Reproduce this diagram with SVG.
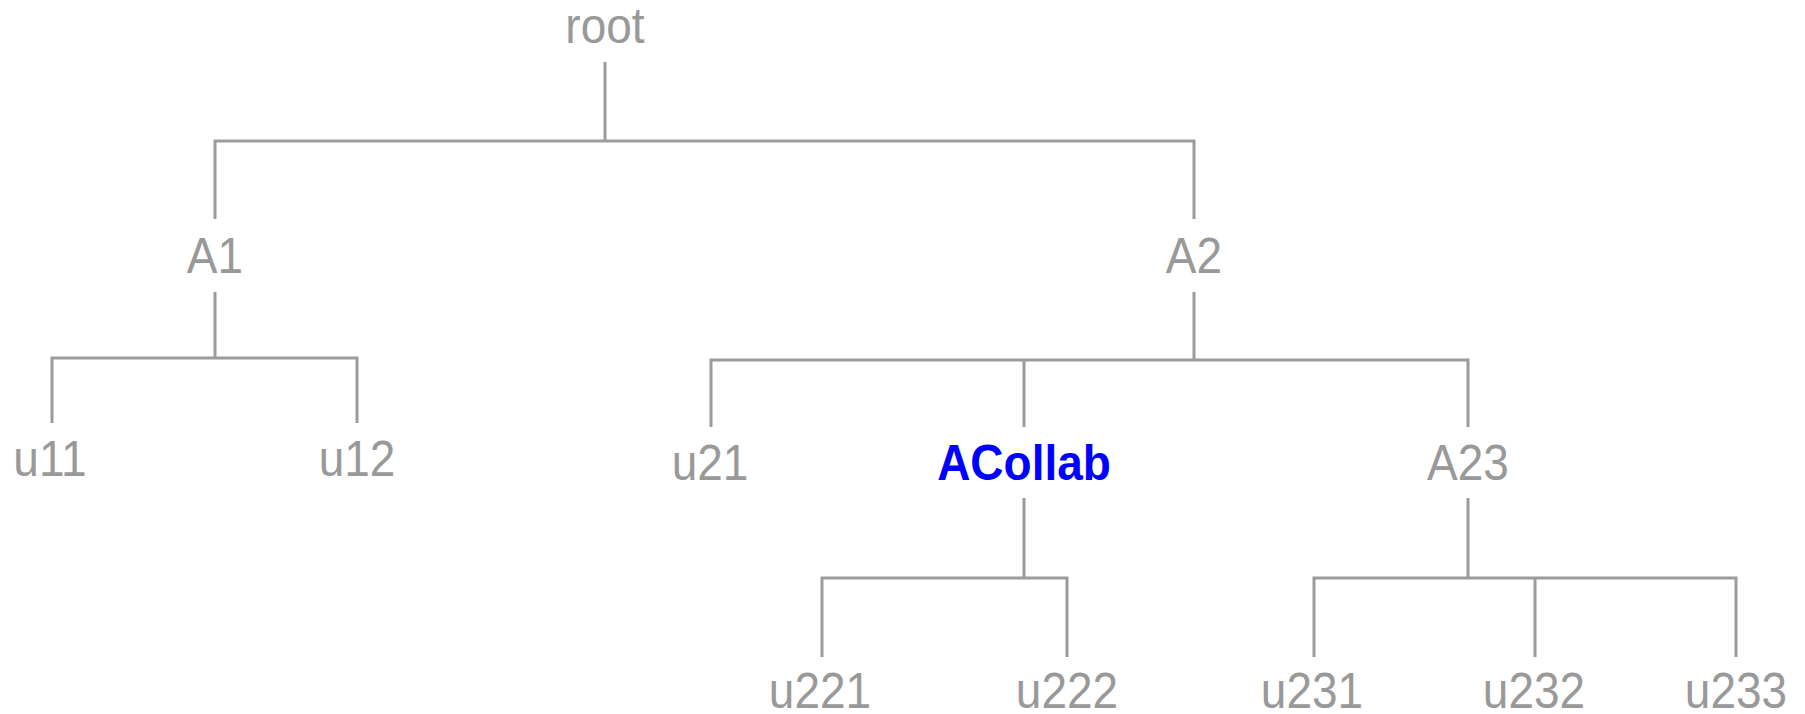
<svg xmlns="http://www.w3.org/2000/svg" width="1805" height="714" viewBox="0 0 1805 714">
<style>
.e{fill:none;stroke:#9b9b9b;stroke-width:3;stroke-linejoin:miter}
.t{font-family:"Liberation Sans",Arial,sans-serif;font-size:46px;fill:#999;text-anchor:middle;transform-box:fill-box;transform-origin:center;transform:scaleY(1.07)}
.hl{fill:#0000ff;font-weight:bold}
</style>
<rect width="1805" height="714" fill="#fff"/>
<g id="connectors">
<path class="e" d="M605 62V141M215 219V141H1194V219"/>
<path class="e" d="M215 292V358M52 423V358H357V423"/>
<path class="e" d="M1194 292V360M711 427V360H1468V427M1024 360V427"/>
<path class="e" d="M1024 498V578M822 657V578H1067V657"/>
<path class="e" d="M1468 498V578M1314 657V578H1736V657M1535 578V657"/>
</g>
<g id="root"><text class="t" x="605" y="42">root</text></g>
<g id="A1"><text class="t" x="215" y="272">A1</text></g>
<g id="A2"><text class="t" x="1194" y="272">A2</text></g>
<g id="u11"><text class="t" x="50" y="475">u11</text></g>
<g id="u12"><text class="t" x="357" y="475">u12</text></g>
<g id="u21"><text class="t" x="710" y="479">u21</text></g>
<g id="ACollab"><text class="t hl" x="1024" y="479">ACollab</text></g>
<g id="A23"><text class="t" x="1468" y="479">A23</text></g>
<g id="u221"><text class="t" x="820" y="707">u221</text></g>
<g id="u222"><text class="t" x="1067" y="707">u222</text></g>
<g id="u231"><text class="t" x="1312" y="707">u231</text></g>
<g id="u232"><text class="t" x="1534" y="707">u232</text></g>
<g id="u233"><text class="t" x="1736" y="707">u233</text></g>
</svg>
